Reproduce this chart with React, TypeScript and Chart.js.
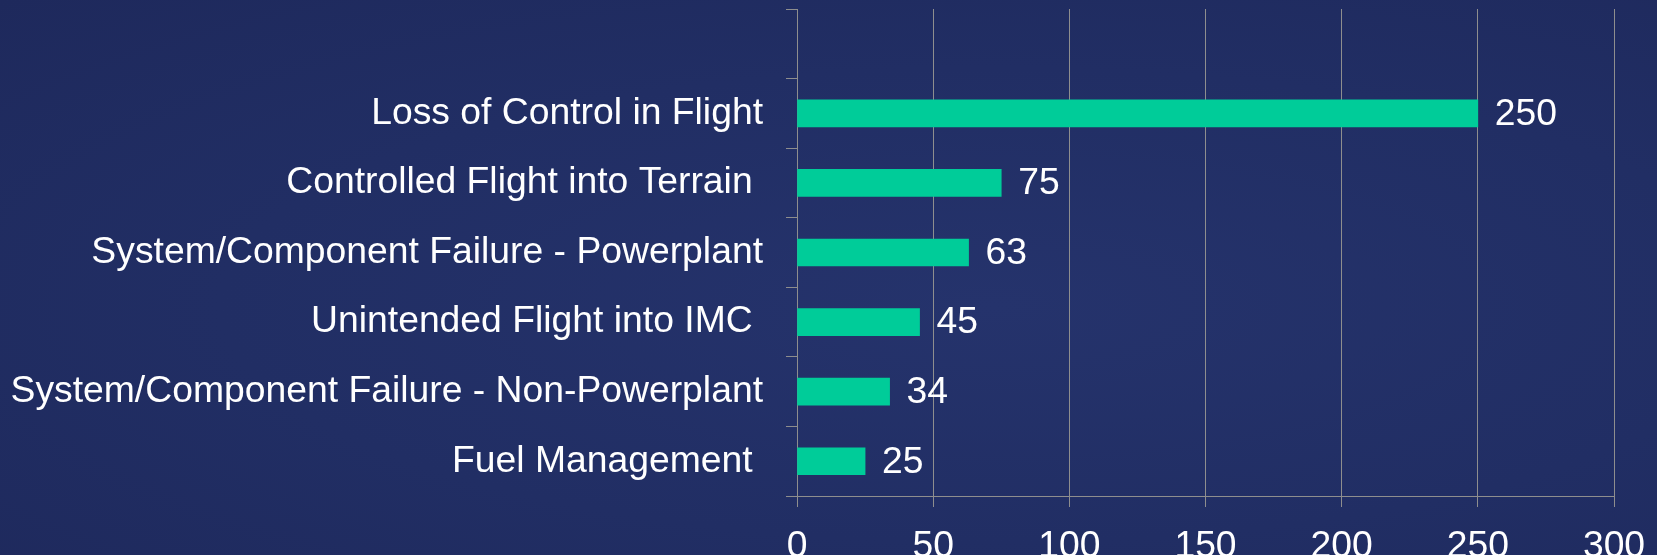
import React, { useEffect, useRef } from "react";
import { Chart, registerables } from "chart.js";

Chart.register(...registerables);

const categories: string[] = [
  "",
  "Loss of Control in Flight",
  "Controlled Flight into Terrain ",
  "System/Component Failure - Powerplant",
  "Unintended Flight into IMC ",
  "System/Component Failure - Non-Powerplant",
  "Fuel Management ",
];
const accidents: (number | null)[] = [null, 250, 75, 63, 45, 34, 25];
const xTicks: number[] = [0, 50, 100, 150, 200, 250, 300];

const FONT = '"Liberation Sans", Arial, Helvetica, sans-serif';
const GRID = "#8e8e8e";
const FS = 37.3;

const valueLabels = {
  id: "valueLabels",
  afterDatasetsDraw(chart: any) {
    const ctx = chart.ctx;
    const meta = chart.getDatasetMeta(0);
    ctx.save();
    ctx.fillStyle = "#ffffff";
    ctx.font = `${FS}px ${FONT}`;
    ctx.textAlign = "left";
    ctx.textBaseline = "middle";
    meta.data.forEach((bar: any, i: number) => {
      const v = accidents[i];
      if (v == null) return;
      ctx.fillText(String(v), bar.x + 17, bar.y + 1);
    });
    ctx.restore();
  },
};

export default function App() {
  const ref = useRef<HTMLCanvasElement | null>(null);

  useEffect(() => {
    document.body.style.margin = "0";
    const canvas = ref.current;
    if (!canvas) return;
    const chart = new Chart(canvas, {
      type: "bar",
      data: {
        labels: categories,
        datasets: [
          {
            data: accidents as any,
            backgroundColor: "#00cc99",
            borderWidth: 0,
            barThickness: 27,
          },
        ],
      },
      options: {
        indexAxis: "y",
        animation: false,
        responsive: false,
        maintainAspectRatio: false,
        layout: { padding: { top: 9, right: 43, left: 0, bottom: 0 } },
        plugins: {
          legend: { display: false },
          tooltip: { enabled: false },
        },
        scales: {
          x: {
            type: "linear",
            min: 0,
            max: 300,
            afterBuildTicks: (scale: any) => {
              scale.ticks = xTicks.map((v) => ({ value: v }));
            },
            afterFit: (scale: any) => {
              scale.height = 59;
              scale.paddingLeft = 0;
              scale.paddingRight = 0;
            },
            grid: {
              color: GRID,
              lineWidth: 1,
              drawOnChartArea: true,
              drawTicks: true,
              tickLength: 11,
              tickColor: GRID,
            },
            border: { display: true, color: GRID, width: 1 },
            ticks: {
              color: "#ffffff",
              font: { size: FS, family: FONT },
              padding: 17,
              maxRotation: 0,
              autoSkip: false,
            },
          },
          y: {
            type: "category",
            offset: true,
            afterFit: (scale: any) => {
              scale.width = 797;
              scale.paddingTop = 0;
              scale.paddingBottom = 0;
            },
            grid: {
              offset: true,
              color: GRID,
              drawOnChartArea: false,
              drawTicks: true,
              tickLength: 11,
              tickColor: GRID,
            },
            border: { display: true, color: GRID, width: 1 },
            ticks: {
              color: "#ffffff",
              font: { size: FS, family: FONT },
              padding: 23,
              autoSkip: false,
            },
          },
        },
      },
      plugins: [valueLabels],
    });
    return () => chart.destroy();
  }, []);

  return (
    <div
      style={{
        position: "absolute",
        left: 0,
        top: 0,
        width: 1657,
        height: 555,
        background:
          "radial-gradient(ellipse at 60% 55%, #25336c 0%, #212e64 55%, #1e295c 100%)",
        overflow: "hidden",
      }}
    >
      <canvas ref={ref} width={1657} height={555} style={{ display: "block" }} />
    </div>
  );
}
